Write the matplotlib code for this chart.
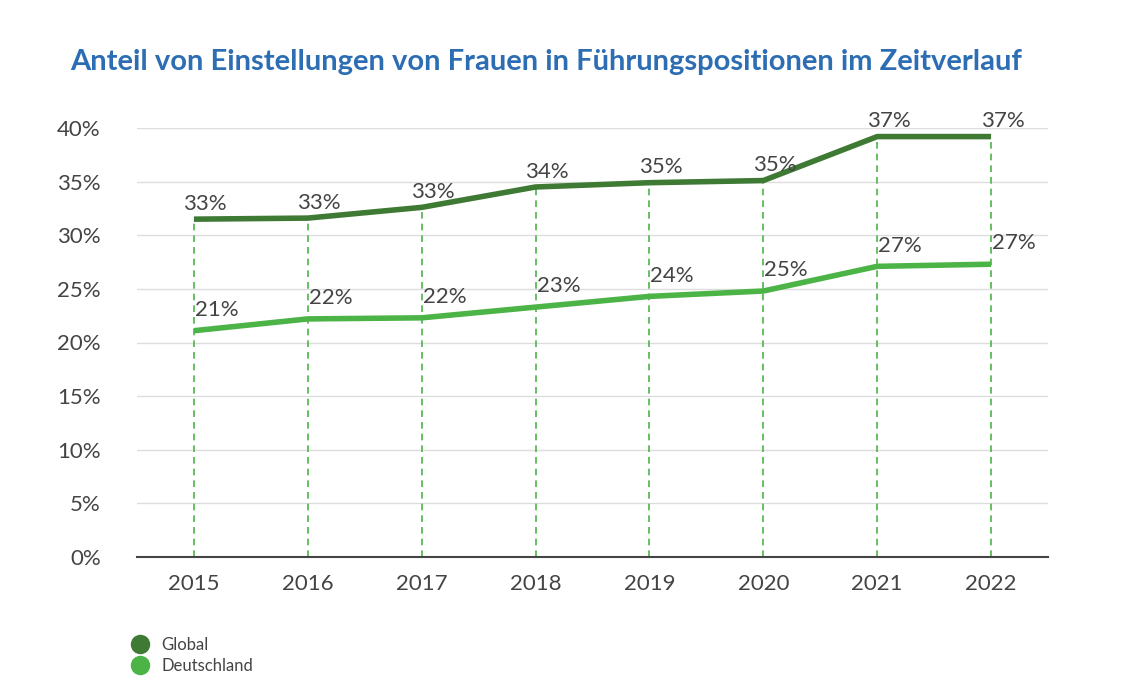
import matplotlib
matplotlib.use("Agg")
import matplotlib.pyplot as plt
from matplotlib.lines import Line2D

years = ["2015","2016","2017","2018","2019","2020","2021","2022"]
global_vals = [31.5, 31.6, 32.6, 34.5, 34.9, 35.1, 39.2, 39.2]
global_labels = ["33%","33%","33%","34%","35%","35%","37%","37%"]
de_vals = [21.1, 22.2, 22.3, 23.3, 24.3, 24.8, 27.1, 27.3]
de_labels = ["21%","22%","22%","23%","24%","25%","27%","27%"]

c_glob = "#3f7a34"
c_de = "#4cb447"

plt.rcParams['font.family'] = ['Lato', 'DejaVu Sans']
fig = plt.figure(figsize=(11.28, 6.98), dpi=100)
ax = fig.add_axes([137/1128, 1-557/698, (1048-137)/1128, (557-128)/698])
x = list(range(len(years)))
ax.set_xlim(-0.5, 7.5)
ax.set_ylim(0, 40)
for v in range(5, 45, 5):
    ax.axhline(v, color="#dddddd", lw=1, zorder=0)
for i in x:
    ax.plot([i, i], [0, global_vals[i]], color=c_de, ls=(0, (4, 3)), lw=1.2, zorder=1)
ax.plot(x, global_vals, color=c_glob, lw=4, zorder=3, solid_capstyle='butt')
ax.plot(x, de_vals, color=c_de, lw=4, zorder=3, solid_capstyle='butt')
for i in x:
    ax.text(i + 0.1, global_vals[i] + 0.5, global_labels[i], fontsize=16, color="#444444", ha="center", va="bottom")
    ax.text(i + 0.2, de_vals[i] + 1.0, de_labels[i], fontsize=16, color="#444444", ha="center", va="bottom")
ax.set_xticks(x)
ax.set_xticklabels(years)
ax.set_yticks(range(0, 45, 5))
ax.set_yticklabels([f"{v}%" for v in range(0, 45, 5)])
ax.tick_params(length=0, labelsize=16, labelcolor="#444444", pad=12)
ax.tick_params(axis='y', pad=26)
for s in ["top", "right", "left"]:
    ax.spines[s].set_visible(False)
ax.spines["bottom"].set_color("#444444")
ax.spines["bottom"].set_linewidth(1.5)

fig.text(70/1128, 1-62/698, "Anteil von Einstellungen von Frauen in Führungspositionen im Zeitverlauf",
         fontsize=21, color="#2d6db3", va="center", ha="left", fontweight="bold")

handles = [Line2D([], [], marker='o', ls='', color=c_glob, markersize=13),
           Line2D([], [], marker='o', ls='', color=c_de, markersize=13)]
fig.legend(handles, ["Global", "Deutschland"], loc="upper left",
           bbox_to_anchor=(108/1128, 1-622/698), frameon=False, fontsize=12,
           handletextpad=0.3, labelspacing=0.3, labelcolor="#444444")
fig.savefig("out.png", dpi=100)
